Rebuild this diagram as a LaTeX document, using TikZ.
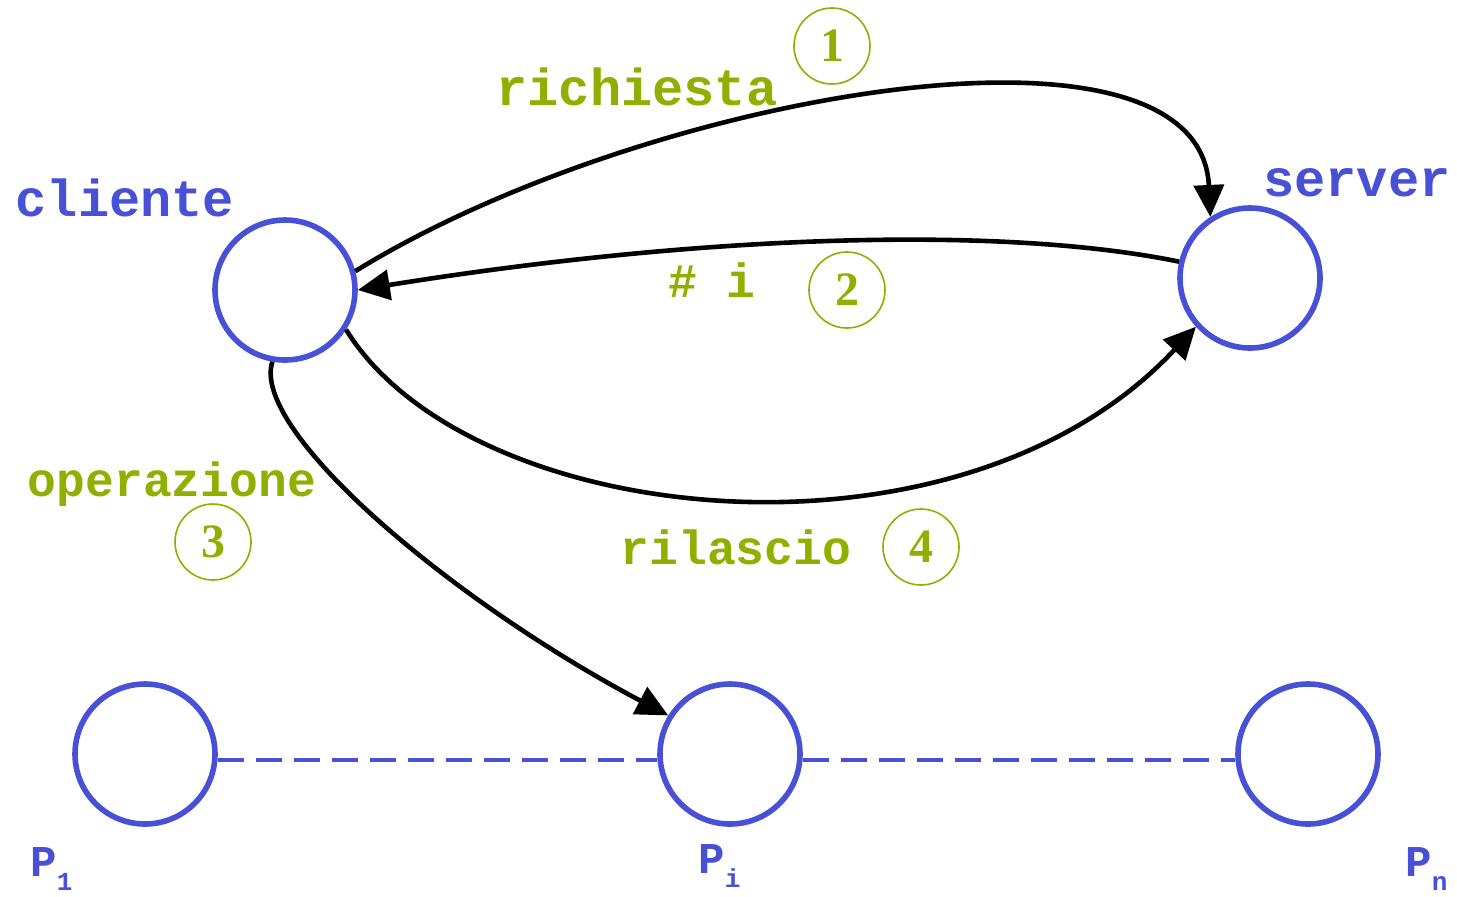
\documentclass[tikz,border=0pt]{standalone}
\usepackage{fontspec}
\setmainfont{Liberation Serif}
\setmonofont{Liberation Mono}
\usetikzlibrary{arrows.meta}
\definecolor{procblue}{RGB}{72,80,214}
\definecolor{stepgreen}{RGB}{143,176,0}

\begin{document}
\begin{tikzpicture}[x=0.5pt,y=-0.5pt]
        \tikzset{VertexStyle/.style={circle, draw=procblue, line width=2.8pt,
                 minimum size=70pt, inner sep=0pt},
                 EdgeStyle/.style={line width=2.3pt, -{Triangle[length=16pt,width=15pt]}},
                 DashStyle/.style={draw=procblue, line width=2.3pt,
                 dash pattern=on 13pt off 6pt},
                 StepStyle/.style={circle, draw=stepgreen, line width=0.8pt,
                 minimum size=38pt, inner sep=0pt, text=stepgreen,
                 font=\fontsize{24}{24}\selectfont\bfseries},
                 LabelStyle/.style={text=stepgreen,
                 font=\fontsize{24}{24}\selectfont\ttfamily\bfseries},
                 NameStyle/.style={text=procblue,
                 font=\fontsize{26}{26}\selectfont\ttfamily\bfseries},
                 ProcStyle/.style={text=procblue, anchor=base west, inner sep=0pt,
                 font=\fontsize{22}{22}\selectfont\ttfamily\bfseries}}
        \useasboundingbox (0,0) rectangle (1457,896);
        \node[VertexStyle] (cliente) at (285,290) {};
        \node[VertexStyle] (server) at (1250,278) {};
        \node[VertexStyle] (P1) at (145,754) {};
        \node[VertexStyle] (Pi) at (730,754) {};
        \node[VertexStyle] (Pn) at (1308,754) {};
        \node[NameStyle] (lcliente) at (125,198) {cliente};
        \node[NameStyle] (lserver) at (1357,183) {server};
        \node[ProcStyle] (lP1) at (30,876) {P\raisebox{-7pt}{\fontsize{13}{13}\selectfont 1}};
        \node[ProcStyle] (lPi) at (698,873) {P\raisebox{-7pt}{\fontsize{13}{13}\selectfont i}};
        \node[ProcStyle] (lPn) at (1405,876) {P\raisebox{-7pt}{\fontsize{13}{13}\selectfont n}};
        \node[LabelStyle] (lrich) at (637,87) {\fontsize{26}{26}\selectfont richiesta};
        \node[StepStyle] (s1) at (832,46) {1};
        \node[LabelStyle] (lnum) at (712,280) {\#~i};
        \node[StepStyle] (s2) at (847,290) {2};
        \node[LabelStyle] (lop) at (172,484) {operazione};
        \node[StepStyle] (s3) at (213,542) {3};
        \node[LabelStyle] (lril) at (736,547) {rilascio};
        \node[StepStyle] (s4) at (921,547) {4};
        \draw[EdgeStyle] (cliente.15) .. controls (640,95) and (1200,-5) .. (server.123);
        \draw[EdgeStyle] (server.167) .. controls (1000,225) and (700,235) .. (cliente.0);
        \draw[EdgeStyle] (cliente.-100) .. controls (250,430) and (450,600) .. (Pi.148);
        \draw[EdgeStyle] (cliente.-33) .. controls (470,530) and (960,580) .. (server.222);
        \draw[DashStyle] ([yshift=-3pt]P1.east) -- ([yshift=-3pt]Pi.west);
        \draw[DashStyle] ([yshift=-3pt]Pi.east) -- ([yshift=-3pt]Pn.west);
    \end{tikzpicture}
\end{document}
